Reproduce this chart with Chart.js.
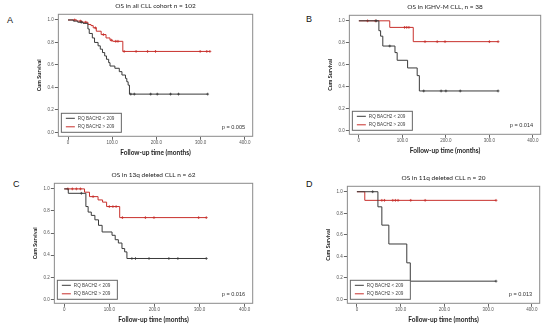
<!DOCTYPE html>
<html lang="en">
<head>
<meta charset="UTF-8">
<title>OS by RQ BACH2</title>
<script src="https://cdn.jsdelivr.net/npm/chart.js"></script>
<style>
  body { margin: 0; background: #fff; }
  #fig { position: relative; width: 550px; height: 330px; overflow: hidden; }
  .panel { position: absolute; }
  .letter { position: absolute; font: 9px/9px "Liberation Sans", Arial, sans-serif; color: #111; }
</style>
</head>
<body>
<div id="fig"></div>
<script>
// labels
var titles = ['OS in all CLL cohort n = 102', 'OS in IGHV-M CLL, n = 38', 'OS in 13q deleted CLL n = 62', 'OS in 11q deleted CLL n = 20'];
var letters = ['A', 'B', 'C', 'D'];
var pValues = ['p = 0.005', 'p = 0.014', 'p = 0.016', 'p = 0.013'];
var groupLabels = ['RQ BACH2 < 209', 'RQ BACH2 > 209'];
var xTicks = [0, 100, 200, 300, 400];
var yTicks = [0, 0.2, 0.4, 0.6, 0.8, 1.0];

// A: all CLL
var aLowT = [12, 22, 34, 45, 48, 55, 60, 68, 73, 78, 83, 87, 92, 95, 106, 116, 122, 130, 133, 136, 139];
var aLowS = [0.99, 0.98, 0.97, 0.92, 0.88, 0.84, 0.80, 0.77, 0.74, 0.71, 0.68, 0.65, 0.62, 0.59, 0.57, 0.54, 0.51, 0.48, 0.45, 0.42, 0.34];
var aLowCens = [30, 142, 150, 187, 202, 232, 250, 316];
var aHighT = [20, 32, 45, 52, 57, 64, 75, 86, 95, 101, 124];
var aHighS = [0.99, 0.98, 0.96, 0.95, 0.93, 0.90, 0.87, 0.84, 0.82, 0.81, 0.72];
var aHighCens = [15, 28, 40, 62, 80, 98, 108, 113, 127, 154, 180, 198, 299, 314, 321];

// B: IGHV-M
var bLowT = [46, 50, 55, 83, 88, 112, 134, 139];
var bLowS = [0.91, 0.86, 0.77, 0.71, 0.64, 0.57, 0.50, 0.36];
var bLowCens = [40, 71, 149, 189, 200, 233, 320];
var bHighT = [71, 125];
var bHighS = [0.94, 0.81];
var bHighCens = [20, 38, 105, 110, 115, 152, 180, 198, 300, 320];

// C: 13q deleted
var cLowT = [9, 48, 53, 60, 68, 76, 84, 106, 113, 120, 128, 134, 139];
var cLowS = [0.96, 0.84, 0.79, 0.76, 0.72, 0.67, 0.61, 0.58, 0.54, 0.51, 0.46, 0.43, 0.37];
var cLowCens = [38, 150, 158, 188, 232, 252, 315];
var cHighT = [45, 56, 75, 85, 94, 123];
var cHighS = [0.97, 0.93, 0.90, 0.88, 0.84, 0.74];
var cHighCens = [8, 18, 27, 36, 64, 100, 108, 115, 129, 180, 199, 298, 315];

// D: 11q deleted
var dLowT = [48, 57, 73, 114, 122];
var dLowS = [0.86, 0.69, 0.515, 0.34, 0.17];
var dLowCens = [36, 318];
var dHighT = [18];
var dHighS = [0.92];
var dHighCens = [57, 63, 82, 88, 94, 123, 156, 318];

var panels = [
    [[aLowT, aLowS, aLowCens], [aHighT, aHighS, aHighCens]],
    [[bLowT, bLowS, bLowCens], [bHighT, bHighS, bHighCens]],
    [[cLowT, cLowS, cLowCens], [cHighT, cHighS, cHighCens]],
    [[dLowT, dLowS, dLowCens], [dHighT, dHighS, dHighCens]]
];

// layout of the figure (plot area left, top, right, bottom)
var plotRects = [[57, 14, 256, 137], [348, 15, 544, 135], [53, 183, 256, 304], [346, 186, 543, 304]];
var letterPos = [[7, 16], [306, 15], [13, 180], [306, 180]];
var M = { left: 21, top: 14, right: 2, bottom: 23 };
var colors = ['#3a3a3a', '#c8302c'];

function survAt(times, surv, t) {
    var s = 1;
    for (var i = 0; i < times.length; i++) if (times[i] <= t) s = surv[i];
    return s;
}

function curve(times, surv, cens) {
    var pts = [{ x: 0, y: 1 }];
    for (var i = 0; i < times.length; i++) pts.push({ x: times[i], y: surv[i] });
    var end = Math.max.apply(null, cens);
    if (end > times[times.length - 1]) pts.push({ x: end, y: surv[surv.length - 1] });
    return pts;
}

function marks(times, surv, cens) {
    return cens.map(function (c) { return { x: c, y: survAt(times, surv, c) }; });
}

var framePlugin = {
    id: 'spssFrame',
    afterDatasetsDraw: function (chart, args, opts) {
        var a = chart.chartArea, ctx = chart.ctx;
        ctx.save();
        ctx.strokeStyle = '#8a8a8a';
        ctx.lineWidth = 1;
        ctx.strokeRect(a.left + 0.5, a.top + 0.5, a.right - a.left - 1, a.bottom - a.top - 1);

        // legend box in lower left corner
        var bx = a.left + 3, by = a.bottom - 24, bw = 60, bh = 19;
        ctx.fillStyle = '#fff';
        ctx.fillRect(bx, by, bw, bh);
        ctx.strokeStyle = '#666';
        ctx.strokeRect(bx + 0.5, by + 0.5, bw, bh);
        ctx.font = '4.6px "Liberation Sans", Arial, sans-serif';
        ctx.textBaseline = 'middle';
        ctx.textAlign = 'left';
        chart.data.datasets.filter(function (d) { return !d.isMark; }).forEach(function (d, i) {
            var yy = by + 5.5 + i * 8.5;
            ctx.strokeStyle = d.borderColor;
            ctx.beginPath();
            ctx.moveTo(bx + 5, yy);
            ctx.lineTo(bx + 14, yy);
            ctx.stroke();
            ctx.fillStyle = '#444';
            ctx.fillText(d.label, bx + 17, yy);
        });

        ctx.font = '5.6px "Liberation Sans", Arial, sans-serif';
        ctx.textAlign = 'right';
        ctx.fillStyle = '#333';
        ctx.fillText(opts.p, a.right - 8, a.bottom - 9);
        ctx.restore();
    }
};

var fig = document.getElementById('fig');

panels.forEach(function (groups, k) {
    var r = plotRects[k];
    var div = document.createElement('div');
    div.className = 'panel';
    div.style.left = (r[0] - M.left) + 'px';
    div.style.top = (r[1] - M.top) + 'px';
    div.style.width = (r[2] - r[0] + M.left + M.right) + 'px';
    div.style.height = (r[3] - r[1] + M.top + M.bottom) + 'px';
    var cv = document.createElement('canvas');
    div.appendChild(cv);
    fig.appendChild(div);

    var lt = document.createElement('div');
    lt.className = 'letter';
    lt.textContent = letters[k];
    lt.style.left = letterPos[k][0] + 'px';
    lt.style.top = letterPos[k][1] + 'px';
    fig.appendChild(lt);

    var datasets = [];
    groups.forEach(function (g, i) {
        datasets.push({
            label: groupLabels[i],
            data: curve(g[0], g[1], g[2]),
            borderColor: colors[i],
            borderWidth: 1,
            stepped: true,
            pointRadius: 0,
            fill: false
        });
        datasets.push({
            label: '',
            isMark: true,
            data: marks(g[0], g[1], g[2]),
            showLine: false,
            pointStyle: 'cross',
            pointRadius: 1.4,
            borderColor: colors[i],
            borderWidth: 0.8
        });
    });

    new Chart(cv, {
        type: 'line',
        data: { datasets: datasets },
        plugins: [framePlugin],
        options: {
            responsive: true,
            maintainAspectRatio: false,
            animation: false,
            events: [],
            layout: { padding: { left: 0, right: M.right, top: 0, bottom: 1 } },
            plugins: {
                legend: { display: false },
                tooltip: { enabled: false },
                title: {
                    display: true,
                    text: titles[k],
                    fullSize: false,
                    color: '#222',
                    font: { family: 'Lato', size: 6.5, weight: 'normal' },
                    padding: { top: 2, bottom: 4 }
                },
                spssFrame: { p: pValues[k] }
            },
            scales: {
                x: {
                    type: 'linear',
                    min: -23,
                    max: 419,
                    afterBuildTicks: function (s) { s.ticks = xTicks.map(function (v) { return { value: v }; }); },
                    ticks: {
                        autoSkip: false,
                        maxRotation: 0,
                        padding: 0,
                        color: '#555',
                        font: { family: 'Liberation Sans', size: 4.5 },
                        callback: function (v) { return v === 0 ? '0' : v.toFixed(1); }
                    },
                    grid: { drawOnChartArea: false, tickLength: 3, color: '#666' },
                    border: { display: false },
                    title: {
                        display: true,
                        text: 'Follow-up time (months)',
                        color: '#222',
                        font: { family: 'Lato', size: 6.5, weight: 'bold' },
                        padding: { top: 4, bottom: 2 }
                    }
                },
                y: {
                    min: -0.04,
                    max: 1.055,
                    afterBuildTicks: function (s) { s.ticks = yTicks.map(function (v) { return { value: v }; }); },
                    ticks: {
                        autoSkip: false,
                        padding: 1,
                        color: '#555',
                        font: { family: 'Liberation Sans', size: 4.5 },
                        callback: function (v) { return v.toFixed(1); }
                    },
                    grid: { drawOnChartArea: false, tickLength: 3, color: '#666' },
                    border: { display: false },
                    title: {
                        display: true,
                        text: 'Cum Survival',
                        color: '#222',
                        font: { family: 'Lato', size: 5.5, weight: 'bold' },
                        padding: { top: 0, bottom: 4 }
                    }
                }
            }
        }
    });
});
</script>
</body>
</html>
